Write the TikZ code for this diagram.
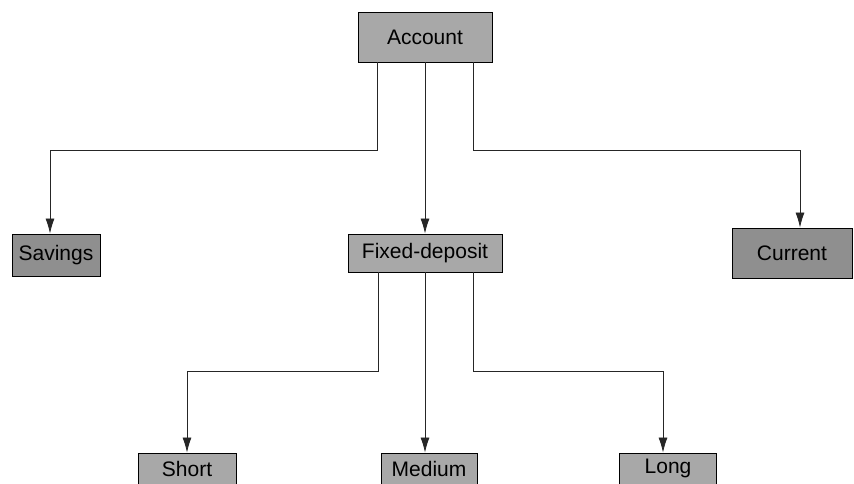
\documentclass[tikz,border=0pt]{standalone}
\usepackage{fontspec}
\setmainfont{Liberation Sans}
\usepackage{tikz}
\usetikzlibrary{positioning, arrows.meta}

\begin{document}
\begin{tikzpicture}[x=1pt, y=-1pt,
        box/.style={draw, line width=0.9pt, fill=gray!68, inner sep=0pt, font=\fontsize{21}{25}\selectfont},
        dark/.style={box, fill=gray!88},
        arr/.style={line width=0.8pt, draw=black!85, -{Latex[length=15pt, width=9pt]}}]
        \useasboundingbox (0,0) rectangle (854,484);
        \node[box,  minimum width=134pt, minimum height=50pt] (account) at (425,37)    {Account};
        \node[dark, minimum width=88pt,  minimum height=42pt] (savings) at (56,255)    {Savings};
        \node[box,  minimum width=154pt, minimum height=38pt] (fixed)   at (425,253)   {Fixed-deposit};
        \node[dark, minimum width=120pt, minimum height=50pt] (current) at (792,253)   {Current};
        \node[box,  minimum width=98pt,  minimum height=31pt] (short)   at (187,468.5) {Short};
        \node[box,  minimum width=96pt,  minimum height=31pt] (medium)  at (429,468.5) {Medium};
        \node[box,  minimum width=97pt,  minimum height=31pt] (long)    at (668,468.5) {Long};

        \draw[arr] ([xshift=-48pt]account.south) -- ++(0,88) -| ([xshift=-6pt]savings.north);
        \draw[arr] (account.south) -- (account.south |- fixed.north);
        \draw[arr] ([xshift=48pt]account.south) -- ++(0,88) -| ([xshift=8pt]current.north);
        \draw[arr] ([xshift=-47pt]fixed.south) -- ++(0,99) -| (short.north);
        \draw[arr] (fixed.south) -- (fixed.south |- medium.north);
        \draw[arr] ([xshift=48pt]fixed.south) -- ++(0,99) -| ([xshift=-5pt]long.north);
    \end{tikzpicture}
\end{document}
